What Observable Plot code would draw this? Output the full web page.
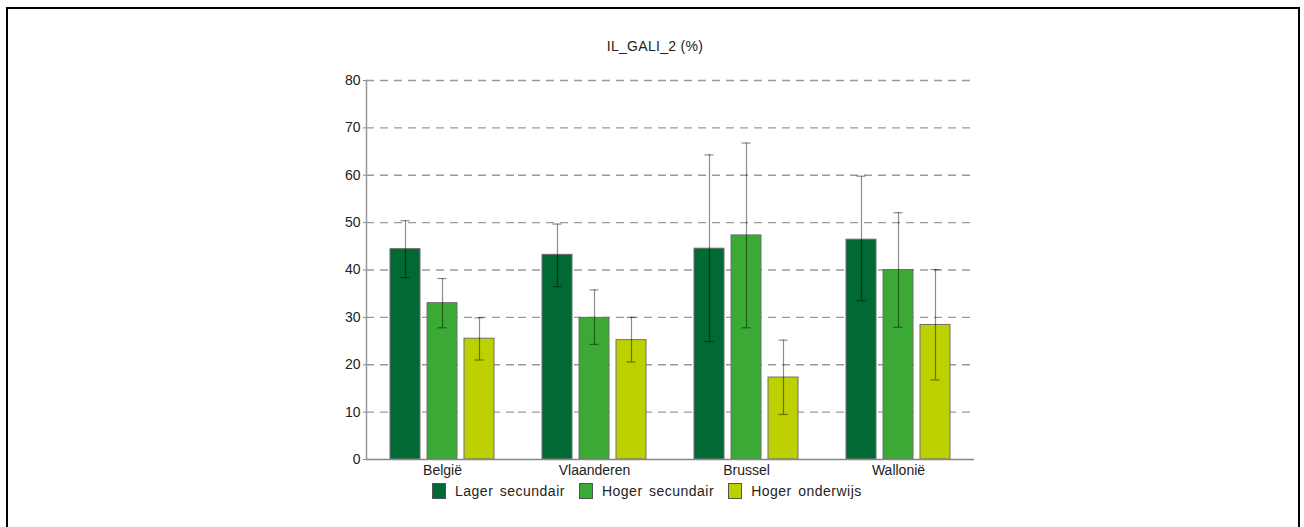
<!DOCTYPE html>
<html>
<head>
<meta charset="utf-8">
<script src="https://cdn.jsdelivr.net/npm/d3@7"></script>
<script src="https://cdn.jsdelivr.net/npm/@observablehq/plot@0.6"></script>
<style>
  html, body { margin: 0; padding: 0; background: #fff; }
  body { width: 1304px; height: 527px; position: relative; overflow: hidden;
         font-family: "Liberation Sans", Arial, sans-serif; color: #222; }
  #border { position: absolute; left: 6px; top: 7px; width: 1294px; height: 560px;
            border: 2px solid #000; box-sizing: border-box; }
  #title { position: absolute; top: 38px; left: 555px; width: 200px; text-align: center;
           font-size: 14px; letter-spacing: 0.3px; }
  #chart { position: absolute; left: 0; top: 61px; }
  #legend { position: absolute; left: 432px; top: 483px; display: flex; gap: 14px;
            font-size: 14px; letter-spacing: 0.5px; word-spacing: 2px; }
  #legend .item { display: flex; align-items: center; gap: 9px; }
  #legend .sw { width: 12px; height: 14px; border: 1px solid #555; }
</style>
</head>
<body>
<div id="border"></div>
<div id="title">IL_GALI_2 (%)</div>
<div id="chart"></div>
<div id="legend"></div>
<script>
// Regions and education levels
const regions = ["België", "Vlaanderen", "Brussel", "Wallonië"];
const levels = ["Lager secundair", "Hoger secundair", "Hoger onderwijs"];
const colors = ["#006934", "#3aaa35", "#bdd000"];

// Percentages per region (rows) and education level (columns)
const values = [
  [44.4, 33.0, 25.5],
  [43.2, 29.9, 25.2],
  [44.5, 47.3, 17.3],
  [46.4, 40.0, 28.4]
];
// Confidence interval bounds
const lower = [
  [38.4, 27.8, 21.0],
  [36.5, 24.3, 20.6],
  [24.9, 27.8, 9.5],
  [33.5, 27.9, 16.8]
];
const upper = [
  [50.4, 38.2, 29.9],
  [49.7, 35.8, 30.0],
  [64.3, 66.8, 25.2],
  [59.8, 52.1, 40.1]
];
const yTicks = [0, 10, 20, 30, 40, 50, 60, 70, 80];

const rows = regions.flatMap((region, i) =>
  levels.map((level, j) => ({
    region, level,
    value: values[i][j], lo: lower[i][j], hi: upper[i][j]
  }))
);

const chart = Plot.plot({
  width: 1304,
  height: 420,
  marginLeft: 365,
  marginRight: 329,
  marginTop: 19,
  marginBottom: 22,
  style: { fontFamily: "Liberation Sans, Arial, sans-serif", fontSize: "14px", color: "#222" },
  fx: { domain: regions, padding: 0, label: null },
  x: { domain: levels, paddingInner: 0.18, paddingOuter: 0.6, axis: null },
  y: { domain: [0, 80], label: null },
  color: { domain: levels, range: colors },
  marks: [
    Plot.gridY(yTicks.filter(d => d > 0), {
      stroke: "#9a9a9a", strokeOpacity: 1, strokeWidth: 1.3, strokeDasharray: "8,6"
    }),
    Plot.barY(rows, {
      fx: "region", x: "level", y: "value", fill: "level",
      stroke: "#6f6f6f", strokeWidth: 1
    }),
    Plot.ruleX(rows, {
      fx: "region", x: "level", y1: "lo", y2: "hi",
      stroke: "#000", strokeOpacity: 0.45, strokeWidth: 1.2
    }),
    Plot.tickY(rows, {
      fx: "region", x: "level", y: "lo",
      stroke: "#000", strokeOpacity: 0.45, strokeWidth: 1.2, insetLeft: 10.5, insetRight: 10.5
    }),
    Plot.tickY(rows, {
      fx: "region", x: "level", y: "hi",
      stroke: "#000", strokeOpacity: 0.45, strokeWidth: 1.2, insetLeft: 10.5, insetRight: 10.5
    }),
    Plot.ruleY([0], { stroke: "#888", strokeWidth: 1.5 }),
    Plot.frame({ anchor: "left", facetAnchor: "left", stroke: "#999", strokeWidth: 1.5 }),
    Plot.axisY(yTicks, {
      tickSize: 3, tickPadding: 3, stroke: "#888", fontSize: 14, label: null
    }),
    Plot.axisFx({ anchor: "bottom", tickSize: 0, tickPadding: 6, fontSize: 14, label: null })
  ]
});
document.getElementById("chart").append(chart);

// Legend built from the same levels and colours
const legend = document.getElementById("legend");
levels.forEach((level, j) => {
  const item = document.createElement("div");
  item.className = "item";
  const sw = document.createElement("span");
  sw.className = "sw";
  sw.style.background = colors[j];
  const label = document.createElement("span");
  label.textContent = level;
  item.append(sw, label);
  legend.append(item);
});
</script>
</body>
</html>
